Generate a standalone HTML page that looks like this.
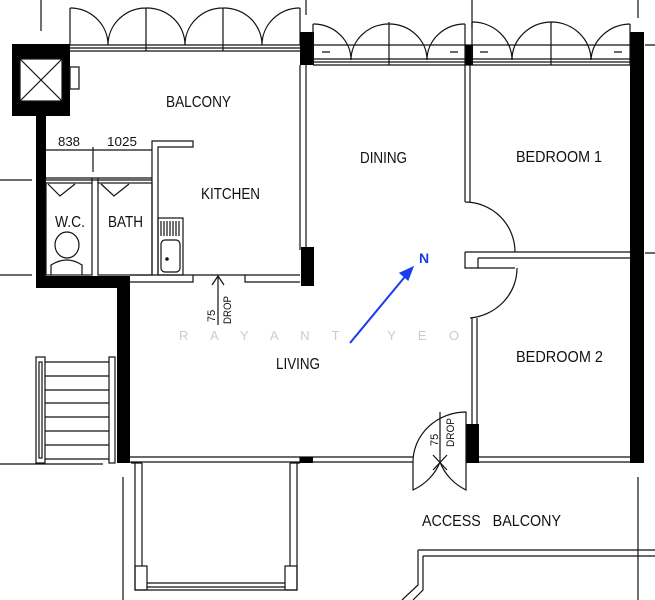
<!DOCTYPE html>
<html><head><style>html,body{margin:0;padding:0;background:#fff;width:655px;height:600px;overflow:hidden}text{font-family:"Liberation Sans",sans-serif;fill:#111}</style></head><body>
<svg width="655" height="600" viewBox="0 0 655 600" xmlns="http://www.w3.org/2000/svg" fill="none" stroke="#111" stroke-width="1.2">
<!-- lift -->
<rect x="12" y="44" width="58" height="72" fill="#000" stroke="none"/>
<rect x="20" y="59" width="42" height="42" fill="#fff" stroke="#111"/>
<path d="M20 59L62 101M62 59L20 101"/>
<rect x="70" y="67" width="9" height="22"/>
<line x1="41" y1="0" x2="41" y2="31"/>
<!-- left wall -->
<rect x="36" y="116" width="10" height="172" fill="#000" stroke="none"/>
<rect x="36" y="276" width="94" height="12" fill="#000" stroke="none"/>
<rect x="117" y="276" width="13" height="187" fill="#000" stroke="none"/>
<path d="M0 180H32M0 275H32M0 464H103"/>
<!-- top balcony doors -->
<path d="M70 45H300M70 48H300M70 51H300"/>
<path d="M70 8V45M146 8V51M223 8V51M300 8V45"/>
<path d="M70 8A38 37 0 0 1 108 45A38 37 0 0 1 146 8M146 8A38 37 0 0 1 185 45A38 37 0 0 1 223 8M223 8A38 37 0 0 1 262 45A38 37 0 0 1 300 8"/>
<!-- kitchen right wall -->
<rect x="300" y="32" width="14" height="33" fill="#000" stroke="none"/>
<path d="M300 65V250M306 65V250"/>
<rect x="301" y="247" width="13" height="39" fill="#000" stroke="none"/>
<!-- counter & wc/bath -->
<path d="M46 150H152M46 178H152M93 147V172"/>
<path d="M152 150V141H193V147H158V275M152 150V275"/>
<rect x="46" y="183" width="46" height="92"/>
<rect x="98" y="183" width="54" height="92"/>
<path d="M92 178V183M98 178V183M46 180H152"/>
<path d="M48 184L60 196L75 184M101 184L114 196L129 184"/>
<ellipse cx="67" cy="245" rx="12" ry="13"/>
<path d="M51 275V265Q67 255 82 265V275"/>
<rect x="158" y="218" width="25" height="57"/>
<path d="M161 221V236M164 221V236M167 221V236M170 221V236M173 221V236M176 221V236M179 221V236"/>
<rect x="161" y="240" width="19" height="32" rx="4"/>
<circle cx="167" cy="259" r="1.2" fill="#111"/>
<!-- kitchen bottom -->
<path d="M130 275H300M130 282H193V275M245 275V282H300"/>
<path d="M218 276V325M212 285L218 276L224 285"/>
<g stroke="none">
<text x="0" y="0" font-size="11" transform="translate(215,322) rotate(-90)">75</text>
<text x="0" y="0" font-size="11" transform="translate(231,324) rotate(-90)" textLength="28" lengthAdjust="spacingAndGlyphs">DROP</text>
</g>
<!-- dining/bedroom top doors -->
<path d="M313 45H630M313 59H630M313 62H630M313 65H630"/>
<rect x="300" y="32" width="13" height="33" fill="#000" stroke="none"/>
<rect x="465" y="45" width="8" height="20" fill="#000" stroke="none"/>
<rect x="630" y="32" width="14" height="431" fill="#000" stroke="none"/>
<path d="M313 24V65M389 22V65M465 24V65M472 22V65M551 22V65M630 24V65"/>
<path d="M313 24A38 36 0 0 1 351 60A38 36 0 0 1 389 24A38 36 0 0 1 427 60A38 36 0 0 1 465 24M472 22A40 38 0 0 1 512 60A40 38 0 0 1 551 22A40 38 0 0 1 591 60A40 38 0 0 1 630 24"/>
<path d="M322 52H330M450 52H458M480 52H488M614 52H622" />
<path d="M306 0V15M472 0V28M638 0V18M645 45H655M645 253H655"/>
<!-- bedroom walls -->
<path d="M465 65V202M470 65V202M465 202A50 50 0 0 1 515 252"/>
<path d="M465 252H630M478 258H630M465 252V268H478V258M465 268H515"/>
<path d="M517 268A52 50 0 0 1 470 318"/>
<path d="M472 318V425M477 318V425"/>
<rect x="466" y="424" width="13" height="39" fill="#000" stroke="none"/>
<!-- bottom wall -->
<path d="M130 457H413M130 462H413M300 457V462M479 457H630M479 462H630"/>
<rect x="300" y="457" width="13" height="6" fill="#000" stroke="none"/>
<!-- access door -->
<path d="M413 462A53 50 0 0 1 466 412V462"/>
<path d="M413 462V490A55 50 0 0 0 440 462M466 462V490A55 50 0 0 1 440 462"/>
<path d="M433 455L447 470M447 455L433 470M440 462V412"/>
<g stroke="none">
<text x="0" y="0" font-size="11" transform="translate(438,446) rotate(-90)">75</text>
<text x="0" y="0" font-size="11" transform="translate(454,447) rotate(-90)" textLength="29" lengthAdjust="spacingAndGlyphs">DROP</text>
</g>
<!-- stairs -->
<rect x="36" y="357" width="9" height="106"/>
<rect x="39" y="362" width="3" height="96"/>
<rect x="109" y="357" width="6" height="106"/>
<path d="M45 362H109M45 376H109M45 390H109M45 403H109M45 417H109M45 431H109M45 445H109M45 459H109"/>
<!-- lower bay -->
<path d="M135 463V590H297V463M142 463V566M290 463V566"/>
<rect x="135" y="566" width="12" height="24"/>
<rect x="285" y="566" width="12" height="24"/>
<path d="M147 583H285M147 587H285M131 463H142M290 463H300"/>
<path d="M123 477V600M638 477V600"/>
<!-- access balcony structure -->
<path d="M418 550H655M423 556H655M418 550V585L402 600M423 556V590L413 600"/>
<!-- labels -->
<g stroke="none" font-size="16">
<text x="166" y="107" textLength="65" lengthAdjust="spacingAndGlyphs">BALCONY</text>
<text x="58" y="146" font-size="13" textLength="22" lengthAdjust="spacingAndGlyphs">838</text>
<text x="107" y="146" font-size="13" textLength="30" lengthAdjust="spacingAndGlyphs">1025</text>
<text x="201" y="199" textLength="59" lengthAdjust="spacingAndGlyphs">KITCHEN</text>
<text x="55" y="227" textLength="30" lengthAdjust="spacingAndGlyphs">W.C.</text>
<text x="108" y="227" textLength="35" lengthAdjust="spacingAndGlyphs">BATH</text>
<text x="360" y="163" textLength="47" lengthAdjust="spacingAndGlyphs">DINING</text>
<text x="516" y="162" textLength="86" lengthAdjust="spacingAndGlyphs">BEDROOM 1</text>
<text x="516" y="362" textLength="87" lengthAdjust="spacingAndGlyphs">BEDROOM 2</text>
<text x="276" y="369" textLength="44" lengthAdjust="spacingAndGlyphs">LIVING</text>
<text x="422" y="526" textLength="139" lengthAdjust="spacingAndGlyphs">ACCESS&#160;&#160;&#160;BALCONY</text>
<text x="179" y="340" font-size="13" style="fill:#ccc" textLength="280" lengthAdjust="spacing">R A Y A N T &#160; Y E O</text>
<text x="419" y="263" font-size="14" font-weight="bold" style="fill:#1a3cf0">N</text>
</g>
<path d="M350 343L408 273" stroke="#1a3cf0" stroke-width="2"/>
<path d="M413 267L400 273L408 280Z" fill="#1a3cf0" stroke="#1a3cf0"/>
</svg>
</body></html>
